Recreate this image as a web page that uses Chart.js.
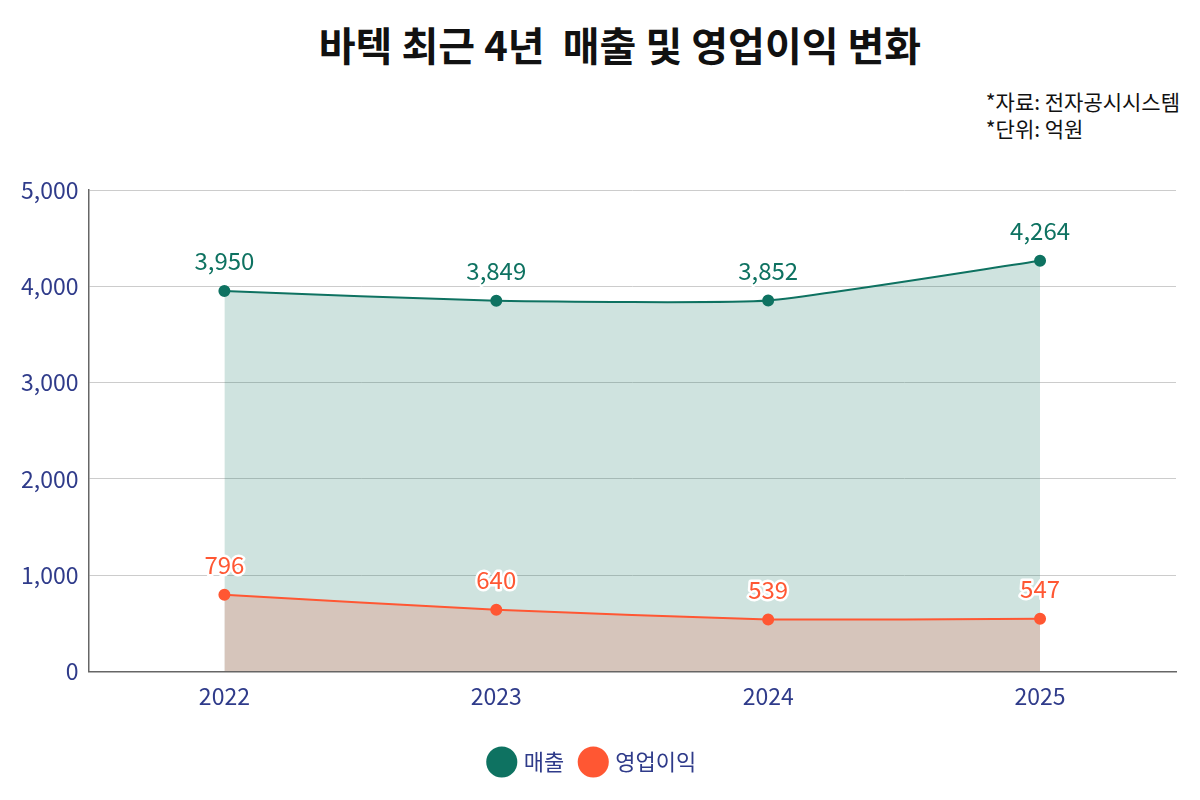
<!DOCTYPE html>
<html>
<head>
<meta charset="utf-8">
<script src="https://cdn.jsdelivr.net/npm/chart.js@4"></script>
<style>
  body { margin: 0; background: #fff; font-family: "Noto Sans CJK KR", sans-serif; }
  #wrap { position: relative; width: 1200px; height: 800px; }
  #title { position: absolute; top: 15px; left: 0; width: 1240px; text-align: center; font-size: 40px; font-weight: 700; color: #111; white-space: pre; }
  #note { position: absolute; top: 88px; right: 20px; text-align: left; font-size: 21px; line-height: 27px; color: #111; }
  canvas { position: absolute; top: 0; left: 0; }
</style>
</head>
<body>
<div id="wrap">
  <div id="title">바텍 최근 4년  매출 및 영업이익 변화</div>
  <div id="note">*자료: 전자공시시스템<br>*단위: 억원</div>
  <canvas id="chart" width="1200" height="800"></canvas>
</div>
<script>
// 데이터
var years = ["2022", "2023", "2024", "2025"];
var sales = [3950, 3849, 3852, 4264];
var profit = [796, 640, 539, 547];

var navy = "#2f3b8a";
var green = "#0e7261";
var orange = "#ff5733";

// 값 라벨 그리기
var valueLabels = {
  id: "valueLabels",
  afterDatasetsDraw: function (chart) {
    var ctx = chart.ctx;
    ctx.save();
    ctx.font = "24px 'Noto Sans CJK KR'";
    ctx.textAlign = "center";
    ctx.textBaseline = "alphabetic";
    chart.data.datasets.forEach(function (ds, i) {
      var meta = chart.getDatasetMeta(i);
      meta.data.forEach(function (pt, j) {
        var txt = ds.data[j].toLocaleString("en-US");
        var y = pt.y - 21;
        ctx.lineJoin = "round";
        ctx.lineWidth = 5;
        ctx.strokeStyle = "#fff";
        ctx.strokeText(txt, pt.x, y);
        ctx.fillStyle = ds.borderColor;
        ctx.fillText(txt, pt.x, y);
      });
    });
    ctx.restore();
  }
};

var ctx = document.getElementById("chart").getContext("2d");
var chart = new Chart(ctx, {
  type: "line",
  data: {
    labels: years,
    datasets: [{
      label: "매출",
      data: sales,
      order: 1,
      borderColor: green,
      backgroundColor: "rgba(14,114,97,0.2)",
      pointBackgroundColor: green,
      pointBorderColor: green,
      fill: "origin",
      borderWidth: 2,
      pointRadius: 5,
      tension: 0.15
    }, {
      label: "영업이익",
      data: profit,
      order: 0,
      borderColor: orange,
      backgroundColor: "rgba(230,127,103,0.3)",
      pointBackgroundColor: orange,
      pointBorderColor: orange,
      fill: "origin",
      borderWidth: 2,
      pointRadius: 5,
      tension: 0.15
    }]
  },
  options: {
    responsive: false,
    animation: false,
    layout: { padding: { top: 190, left: 11, right: 24, bottom: 17 } },
    plugins: {
      filler: { drawTime: "beforeDatasetsDraw" },
      legend: {
        position: "bottom",
        labels: {
          usePointStyle: true,
          pointStyle: "circle",
          boxWidth: 22,
          boxHeight: 22,
          padding: 18,
          color: navy,
          font: { family: "'Noto Sans CJK KR'", size: 22 },
          generateLabels: function (c) {
            return c.data.datasets.map(function (ds, i) {
              return {
                text: ds.label,
                fillStyle: ds.borderColor,
                strokeStyle: ds.borderColor,
                lineWidth: 0,
                pointStyle: "circle",
                fontColor: navy,
                datasetIndex: i
              };
            });
          }
        }
      },
      tooltip: { enabled: false }
    },
    scales: {
      x: {
        offset: true,
        grid: { display: false },
        border: { color: "#666", width: 1.5 },
        ticks: { color: navy, padding: 3, font: { family: "'Noto Sans CJK KR'", size: 23 } },
        afterFit: function (scale) { scale.height += 20; } // 범례와 간격
      },
      y: {
        min: 0,
        max: 5000,
        ticks: {
          stepSize: 1000,
          color: navy,
          padding: 10,
          font: { family: "'Noto Sans CJK KR'", size: 23 },
          callback: function (v) { return v.toLocaleString("en-US"); }
        },
        grid: { color: "#cccccc", drawTicks: false },
        border: { color: "#666", width: 1.5 }
      }
    }
  },
  plugins: [valueLabels]
});
</script>
</body>
</html>
